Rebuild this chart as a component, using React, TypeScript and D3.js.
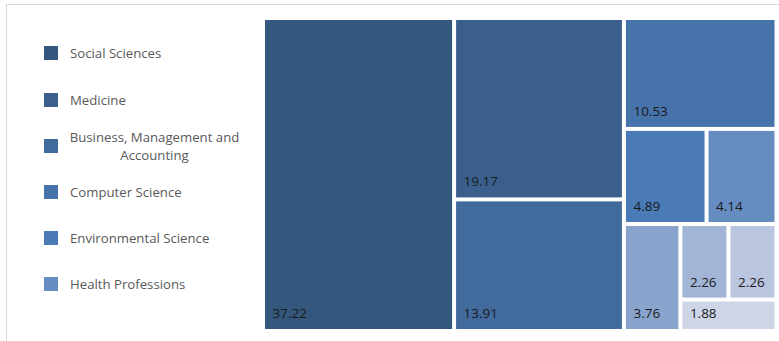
import React from "react";
import * as d3 from "d3";

const legendLabels = [
  "Social Sciences",
  "Medicine",
  "Business, Management and Accounting",
  "Computer Science",
  "Environmental Science",
  "Health Professions",
];
const cellIds = ["c1", "c2", "c3", "c4", "c5", "c6", "c7", "c8", "c9", "c10"];
const values = [37.22, 19.17, 13.91, 10.53, 4.89, 4.14, 3.76, 2.26, 2.26, 1.88];
const colors = [
  "#34577e",
  "#3b5f8c",
  "#416a9d",
  "#4673a9",
  "#4a7bb6",
  "#668dc1",
  "#89a4cc",
  "#a3b5d6",
  "#bac6e0",
  "#cdd5e7",
];

const W = 779;
const H = 341;
const TX0 = 265;
const TY0 = 20;
const TX1 = 774.5;
const TY1 = 329;

export default function App() {
  const data = cellIds.map((id, i) => ({ id, value: values[i], color: colors[i] }));
  const root = d3
    .hierarchy<any>({ children: data })
    .sum((d: any) => d.value || 0);
  d3
    .treemap<any>()
    .tile(d3.treemapSquarify.ratio(1))
    .size([TX1 - TX0, TY1 - TY0])
    .paddingInner(4)
    .round(false)(root);
  const leaves = root.leaves() as any[];

  const font = "'Open Sans', sans-serif";
  const legendY = [53, 100, 146, 192, 238, 284];
  const lfs = 13.2;

  return (
    <svg
      width={W}
      height={H}
      style={{ position: "absolute", left: 0, top: 0, background: "#fff" }}
      fontFamily={font}
    >
      <rect x={6.5} y={4.5} width={W + 20} height={H + 20} fill="#fff" stroke="#d9d9d9" strokeWidth={1} />
      {leaves.map((l, i) => (
        <g key={i} transform={`translate(${TX0 + l.x0},${TY0 + l.y0})`}>
          <rect width={l.x1 - l.x0} height={l.y1 - l.y0} fill={l.data.color} />
          <text x={7.5} y={l.y1 - l.y0 - 11} fontSize={13.5} fill="#1a1a1a">
            {d3.format(".2f")(l.data.value)}
          </text>
        </g>
      ))}
      {legendLabels.map((lab, i) => {
        const y = legendY[i];
        const sq = (
          <rect x={44} y={y - 7} width={14} height={14} fill={colors[i]} />
        );
        if (lab === "Business, Management and Accounting") {
          return (
            <g key={i}>
              {sq}
              <text x={154.5} y={y - 4.5} fontSize={lfs} fill="#595959" textAnchor="middle">
                Business, Management and
              </text>
              <text x={154.5} y={y + 13.5} fontSize={lfs} fill="#595959" textAnchor="middle">
                Accounting
              </text>
            </g>
          );
        }
        return (
          <g key={i}>
            {sq}
            <text x={70} y={y + 4.5} fontSize={lfs} fill="#595959">
              {lab}
            </text>
          </g>
        );
      })}
    </svg>
  );
}
